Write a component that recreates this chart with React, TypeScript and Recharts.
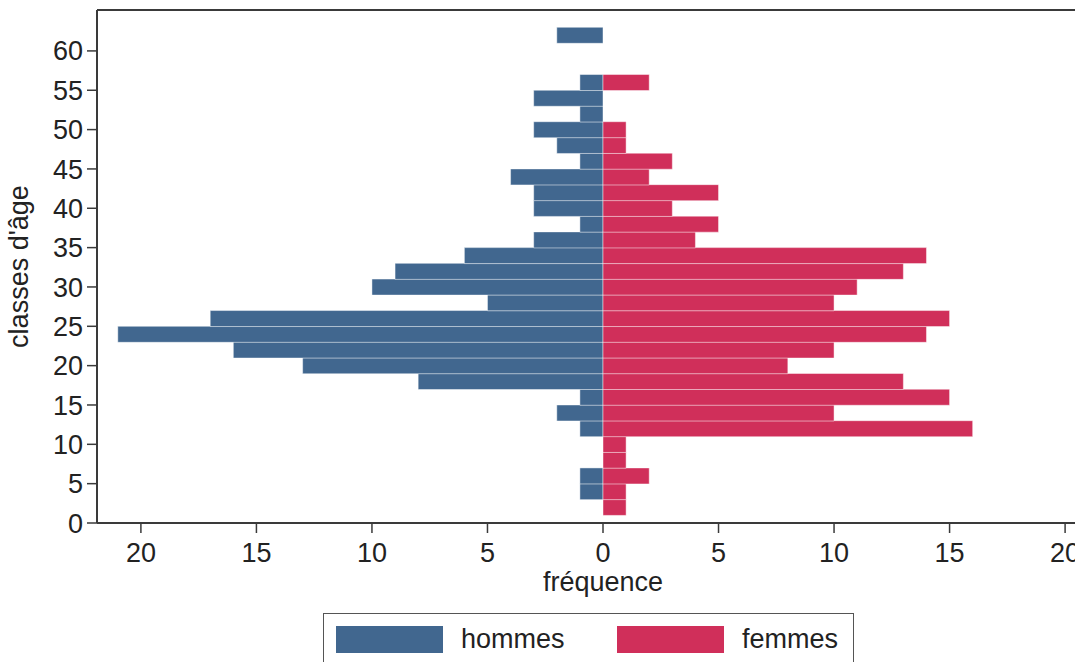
import React from 'react';
import { BarChart, Bar, XAxis, YAxis } from 'recharts';

// classes d'âge (centre de chaque classe de 2 ans)
const AGES = [2, 4, 6, 8, 10, 12, 14, 16, 18, 20, 22, 24, 26, 28, 30, 32, 34, 36, 38, 40, 42, 44, 46, 48, 50, 52, 54, 56, 58, 60, 62];
const HOMMES = [0, 1, 1, 0, 0, 1, 2, 1, 8, 13, 16, 21, 17, 5, 10, 9, 6, 3, 1, 3, 3, 4, 1, 2, 3, 1, 3, 1, 0, 0, 2];
const FEMMES = [1, 1, 2, 1, 1, 16, 10, 15, 13, 8, 10, 14, 15, 10, 11, 13, 14, 4, 5, 3, 5, 2, 3, 1, 1, 0, 0, 2, 0, 0, 0];

const Y_TICKS = [0, 5, 10, 15, 20, 25, 30, 35, 40, 45, 50, 55, 60];
const X_TICKS = [-20, -15, -10, -5, 0, 5, 10, 15, 20];

const SERIES = [
  { key: 'hommes', label: 'hommes', color: '#41678F' },
  { key: 'femmes', label: 'femmes', color: '#D02F5A' },
];

// hommes à gauche (valeurs négatives), femmes à droite
const data = AGES.map((age, i) => ({ age, hommes: -HOMMES[i], femmes: FEMMES[i] }));

const FONT = "'Liberation Sans', Arial, sans-serif";
const AXIS = '#3a3a3a';
const TXT = '#222';

export default function App() {
  return (
    <div
      style={{
        position: 'absolute',
        left: 0,
        top: 0,
        width: 1075,
        height: 662,
        overflow: 'hidden',
        background: '#fff',
        fontFamily: FONT,
      }}
    >
      <BarChart
        width={1120}
        height={662}
        data={data}
        layout="vertical"
        stackOffset="sign"
        barCategoryGap={0}
        barGap={0}
        margin={{ top: 9, right: 11, left: 0, bottom: 0 }}
      >
        <XAxis
          type="number"
          domain={[-21.9, 21.9]}
          ticks={X_TICKS}
          interval={0}
          allowDataOverflow
          tickFormatter={(v) => `${Math.abs(v)}`}
          height={139}
          tickSize={10}
          tickMargin={10}
          tick={{ fill: TXT, fontSize: 27 }}
          tickLine={{ stroke: AXIS, strokeWidth: 1.5 }}
          axisLine={{ stroke: AXIS, strokeWidth: 2 }}
          label={{ value: 'fréquence', position: 'insideTop', offset: 49, fill: TXT, fontSize: 27 }}
        />
        <XAxis
          xAxisId="top"
          orientation="top"
          type="number"
          domain={[-21.9, 21.9]}
          allowDataOverflow
          height={1}
          tick={false}
          tickLine={false}
          axisLine={{ stroke: AXIS, strokeWidth: 2 }}
        />
        <YAxis
          type="number"
          dataKey="age"
          domain={[0, 65.2]}
          reversed
          ticks={Y_TICKS}
          interval={0}
          allowDataOverflow
          width={97}
          tickSize={10}
          tickMargin={4}
          tick={{ fill: TXT, fontSize: 27 }}
          tickLine={{ stroke: AXIS, strokeWidth: 1.5 }}
          axisLine={{ stroke: AXIS, strokeWidth: 2 }}
          label={{
            value: "classes d'âge",
            angle: -90,
            position: 'insideLeft',
            offset: 18,
            fill: TXT,
            fontSize: 27,
            style: { textAnchor: 'middle' },
          }}
        />
        <YAxis yAxisId="right" orientation="right" type="number" width={0} tick={false} tickLine={false} axisLine={{ stroke: AXIS, strokeWidth: 2 }} />
        {SERIES.map((s) => (
          <Bar
            key={s.key}
            dataKey={s.key}
            name={s.label}
            stackId="pyr"
            fill={s.color}
            stroke="#ffffff"
            strokeOpacity={0.45}
            strokeWidth={1}
            isAnimationActive={false}
          />
        ))}
      </BarChart>

      {/* légende */}
      <div
        style={{
          position: 'absolute',
          left: 323,
          top: 613,
          width: 531,
          height: 70,
          border: '1.5px solid #555',
          boxSizing: 'border-box',
          background: '#fff',
        }}
      >
        {SERIES.map((s, i) => (
          <div key={s.key} style={{ position: 'absolute', left: i === 0 ? 12 : 293, top: 12, display: 'flex', alignItems: 'center' }}>
            <div style={{ width: 107, height: 27, background: s.color }} />
            <span style={{ marginLeft: 18, fontSize: 27, color: TXT, lineHeight: '27px' }}>{s.label}</span>
          </div>
        ))}
      </div>
    </div>
  );
}
